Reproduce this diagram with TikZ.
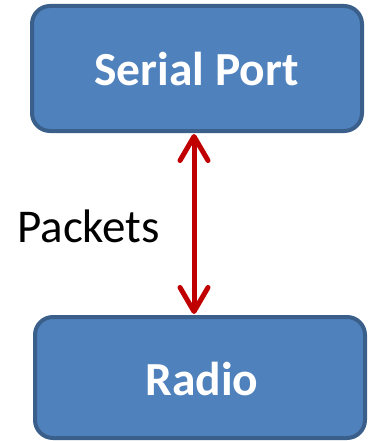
\documentclass[tikz,border=0pt]{standalone}
\usepackage{fontspec}
\setmainfont{Carlito}
\usetikzlibrary{arrows.meta}
\definecolor{boxfill}{HTML}{4F81BD}
\definecolor{boxline}{HTML}{3A5F8B}
\definecolor{arrowred}{HTML}{C00000}
\tikzset{
  blockbox/.style={draw=boxline, fill=boxfill, line width=4pt, rounded corners=18pt,
    minimum width=330pt, inner sep=0pt},
  boxtext/.style={text=white, font=\fontsize{47.5}{52}\selectfont\bfseries, inner sep=0pt, anchor=base},
  linkarrow/.style={draw=arrowred, line width=5pt,
    {Straight Barb[length=24pt, width=28pt, line cap=round, line join=round]}-{Straight Barb[length=24pt, width=28pt, line cap=round, line join=round]}},
  labeltext/.style={font=\fontsize{47}{52}\selectfont, inner sep=0pt}
}
\begin{document}
\begin{tikzpicture}[x=1pt, y=-1pt]
\useasboundingbox (0,0) rectangle (368,441);
\node[blockbox, minimum height=125pt] (serial) at (197,68.5) {};
\node[boxtext] (serialtxt) at (196.5,85) {Serial Port};
\node[blockbox, minimum height=121pt] (radio) at (200,377.5) {};
\node[boxtext] (radiotxt) at (202,395) {Radio};
\coordinate (ax) at (194,0);
\draw[linkarrow] ([yshift=-1pt]serial.south -| ax) -- ([yshift=1pt]radio.north -| ax);
\node[labeltext, anchor=base west] (packets) at (17,242) {Packets};
\end{tikzpicture}
\end{document}
